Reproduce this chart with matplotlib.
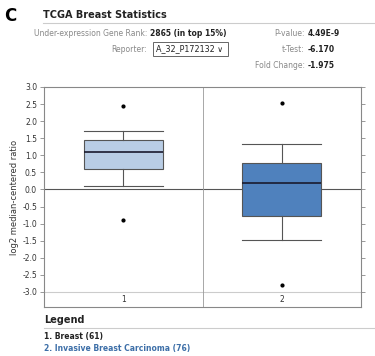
import matplotlib
matplotlib.use("Agg")
import matplotlib.pyplot as plt
from matplotlib.patches import Rectangle

categories = ["1", "2"]
whislo = [0.10, -1.47]
q1 = [0.61, -0.77]
med = [1.11, 0.18]
q3 = [1.45, 0.78]
whishi = [1.71, 1.34]
fliers = [[2.44, -0.88], [2.54, -2.80]]
box_colors = ["#b9cde5", "#4f81bd"]
legend_items = ["1. Breast (61)", "2. Invasive Breast Carcinoma (76)"]
yticks = [3.0, 2.5, 2.0, 1.5, 1.0, 0.5, 0.0, -0.5, -1.0, -1.5, -2.0, -2.5, -3.0]

W, H = 375, 356
fig = plt.figure(figsize=(W / 100, H / 100), dpi=100)
plt.rcParams['font.family'] = ['DejaVu Sans']

def fx(px):
    return px / W

def fy(py):
    return 1 - py / H

ax = fig.add_axes([fx(44), fy(307), fx(361) - fx(44), fy(87) - fy(307)])
stats = []
for i in range(len(categories)):
    stats.append(dict(whislo=whislo[i], q1=q1[i], med=med[i], q3=q3[i],
                      whishi=whishi[i], fliers=fliers[i], label=categories[i]))
pos = list(range(1, len(categories) + 1))
bp = ax.bxp(stats, positions=pos, widths=0.5, patch_artist=True,
            boxprops=dict(edgecolor="#555555", linewidth=0.8),
            whiskerprops=dict(color="#555555", linewidth=0.8),
            capprops=dict(color="#555555", linewidth=0.8),
            medianprops=dict(color="#1a1a2e", linewidth=1.2),
            flierprops=dict(marker="o", markersize=2, markerfacecolor="black",
                            markeredgecolor="black"),
            capwidths=0.5)
for patch, c in zip(bp["boxes"], box_colors):
    patch.set_facecolor(c)

ax.set_xlim(0.5, len(categories) + 0.5)
ax.set_ylim(-3.44, 3.0)
ax.set_yticks(yticks)
ax.set_yticklabels([f"{t:.1f}" for t in yticks], fontsize=5.5, color="#333333")
ax.set_xticks([])
ax.tick_params(axis="y", length=3, width=0.6, color="#888888", pad=2,
               right=True, direction="out")
for s in ax.spines.values():
    s.set_color("#888888")
    s.set_linewidth(0.8)
ax.axhline(0, color="#555555", linewidth=0.8, zorder=0)
ax.axhline(-3.0, color="#cccccc", linewidth=0.8, zorder=0)
for i in range(1, len(categories)):
    ax.axvline(i + 0.5, color="#999999", linewidth=0.6, zorder=0)
for p, c in zip(pos, categories):
    ax.text(p, -3.22, c, ha="center", va="center", fontsize=5.5, color="#333333")
ax.set_ylabel("log2 median-centered ratio", fontsize=6, color="#333333", labelpad=2)

# Header
fig.text(fx(4), fy(16), "C", fontsize=12, fontweight="bold", va="center", ha="left")
fig.text(fx(43), fy(15), "TCGA Breast Statistics", fontsize=7, fontweight="bold",
         va="center", ha="left", color="#222222")
fig.add_artist(plt.Line2D([fx(43), fx(375)], [fy(23), fy(23)], color="#cccccc", linewidth=0.8))

fs = 5.5
fig.text(fx(147), fy(33), "Under-expression Gene Rank:", fontsize=fs, color="#888888",
         ha="right", va="center")
fig.text(fx(150), fy(33), "2865 (in top 15%)", fontsize=fs, color="#222222",
         fontweight="bold", ha="left", va="center")
fig.text(fx(147), fy(49), "Reporter:", fontsize=fs, color="#888888", ha="right", va="center")
fig.add_artist(Rectangle((fx(153), fy(56)), fx(228) - fx(153), fy(42) - fy(56),
                         transform=fig.transFigure, facecolor="white",
                         edgecolor="#666666", linewidth=0.7))
fig.text(fx(156), fy(49), "A_32_P172132 \u2228", fontsize=5.8, color="#222222",
         ha="left", va="center")

fig.text(fx(305), fy(33), "P-value:", fontsize=fs, color="#888888", ha="right", va="center")
fig.text(fx(308), fy(33), "4.49E-9", fontsize=fs, color="#222222", fontweight="bold",
         ha="left", va="center")
fig.text(fx(305), fy(49), "t-Test:", fontsize=fs, color="#888888", ha="right", va="center")
fig.text(fx(308), fy(49), "-6.170", fontsize=fs, color="#222222", fontweight="bold",
         ha="left", va="center")
fig.text(fx(305), fy(65), "Fold Change:", fontsize=fs, color="#888888", ha="right", va="center")
fig.text(fx(308), fy(65), "-1.975", fontsize=fs, color="#222222", fontweight="bold",
         ha="left", va="center")

# Legend
fig.text(fx(44), fy(320), "Legend", fontsize=7, fontweight="bold", color="#222222",
         ha="left", va="center")
fig.add_artist(plt.Line2D([fx(44), fx(375)], [fy(328), fy(328)], color="#cccccc", linewidth=0.8))
leg_colors = ["#222222", "#3d6fa8"]
for k, (t, c) in enumerate(zip(legend_items, leg_colors)):
    fig.text(fx(44), fy(337 + 12 * k), t, fontsize=5.5, color=c, fontweight="bold",
             ha="left", va="center")

fig.savefig("out.png", dpi=100)
